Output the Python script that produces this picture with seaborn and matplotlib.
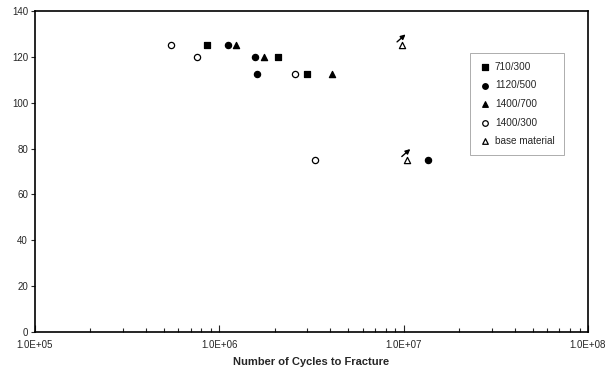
import numpy as np
import pandas as pd
import matplotlib
matplotlib.use("Agg")
import matplotlib.pyplot as plt
import seaborn as sns
from matplotlib.ticker import LogLocator, FixedLocator, NullFormatter

sns.set_style("ticks")
plt.rcParams['font.family'] = ['Liberation Sans', 'DejaVu Sans']

# Data (cycles to fracture, stress)
s710_x = [8.6e5, 2.08e6, 3.0e6]
s710_y = [125, 120, 112.5]
s1120_x = [1.11e6, 1.56e6, 1.6e6, 1.36e7]
s1120_y = [125, 120, 112.5, 75]
s1400_700_x = [1.23e6, 1.75e6, 4.08e6]
s1400_700_y = [125, 120, 112.5]
s1400_300_x = [5.5e5, 7.6e5, 2.58e6, 3.3e6]
s1400_300_y = [125, 120, 112.5, 75]
base_x = [9.8e6, 1.04e7]
base_y = [125, 75]
labels = ["710/300", "1120/500", "1400/700", "1400/300", "base material"]
xticklabels = ["1.0E+05", "1.0E+06", "1.0E+07", "1.0E+08"]
xlabel = "Number of Cycles to Fracture"

series = [
    (labels[0], s710_x, s710_y, 's', 'black'),
    (labels[1], s1120_x, s1120_y, 'o', 'black'),
    (labels[2], s1400_700_x, s1400_700_y, '^', 'black'),
    (labels[3], s1400_300_x, s1400_300_y, 'o', 'white'),
    (labels[4], base_x, base_y, '^', 'white'),
]

fig = plt.figure(figsize=(6.06, 3.74), dpi=100)
ax = fig.add_axes([35/606, 42/374, 553/606, 321/374])

for name, xs, ys, mk, fc in series:
    df = pd.DataFrame({"N": xs, "S": ys})
    sns.scatterplot(data=df, x="N", y="S", ax=ax, marker=mk, s=20,
                    facecolor=fc, edgecolor='black', linewidth=0.9,
                    label=name, zorder=3)

ax.set_xscale('log')
ax.set_xlim(1e5, 1e8)
ax.set_ylim(0, 140)
ax.set_yticks(np.arange(0, 141, 20))
ax.xaxis.set_major_locator(FixedLocator([1e5, 1e6, 1e7, 1e8]))
ax.xaxis.set_minor_locator(LogLocator(base=10, subs=np.arange(2, 10), numticks=20))
ax.xaxis.set_minor_formatter(NullFormatter())
ax.set_xticklabels(xticklabels)
ax.tick_params(axis='x', which='major', direction='in', length=5, width=0.8,
               labelsize=7, pad=6)
ax.tick_params(axis='x', which='minor', direction='in', length=3, width=0.8)
ax.tick_params(axis='y', which='major', direction='out', length=3, width=0.8,
               labelsize=7, pad=2)
for sp in ax.spines.values():
    sp.set_visible(True)
    sp.set_linewidth(1.2)
    sp.set_color('black')

# run-out arrows on base material points
for xv, yv in zip(base_x, base_y):
    p = ax.transData.transform((xv, yv))
    ax.annotate("", xy=(p[0] + 3.5, p[1] + 11), xycoords='figure pixels',
                xytext=(p[0] - 5.0, p[1] + 3.5), textcoords='figure pixels',
                arrowprops=dict(arrowstyle='-|>', color='black', lw=1.0,
                                mutation_scale=7, shrinkA=0, shrinkB=0))

ax.set_xlabel(xlabel, fontsize=8, fontweight='bold', labelpad=5)
ax.set_ylabel("")

leg = ax.legend(loc='upper left', bbox_to_anchor=(435/553, 279/321),
                fontsize=7.2, frameon=True, fancybox=False, edgecolor='#888888',
                handlelength=1.2, handletextpad=0.4, labelspacing=0.85,
                borderpad=0.9, markerscale=0.9, borderaxespad=0)
leg.get_frame().set_linewidth(0.6)

fig.savefig("out.png", dpi=100)
